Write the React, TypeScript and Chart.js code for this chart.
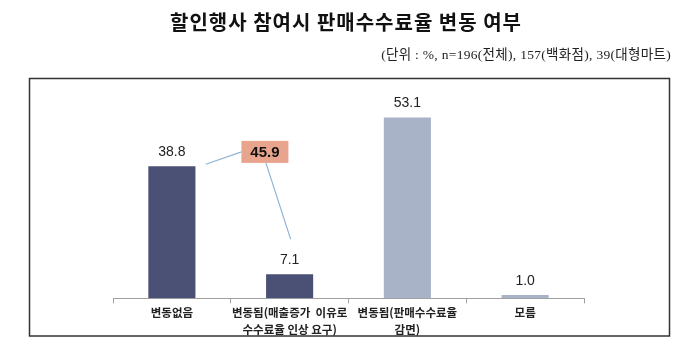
import React, { useEffect, useRef } from "react";
import { Chart, registerables } from "chart.js";

Chart.register(...registerables);

const titleText = "할인행사 참여시 판매수수료율 변동 여부";
const subtitleText = "(단위 : %, n=196(전체), 157(백화점), 39(대형마트)";
const categories: string[][] = [
  ["변동없음"],
  ["변동됨(매출증가  이유로", "수수료율 인상 요구)"],
  ["변동됨(판매수수료율", "감면)"],
  ["모름"],
];
const values = [38.8, 7.1, 53.1, 1.0];
const barColors = ["#4B5175", "#4B5175", "#A9B3C8", "#A9B3C8"];
const sumLabel = "45.9";
const sumIndices = [0, 1];
const sumAnchorIndex = 0.79;
const sumAnchorValue = 43;

const KFONT = "'Noto Sans CJK KR', 'Noto Sans', sans-serif";

const overlayPlugin = {
  id: "overlay",
  afterDraw(chart: any) {
    const ctx = chart.ctx;
    const xs = chart.scales.x;
    const ys = chart.scales.y;
    const meta = chart.getDatasetMeta(0);
    ctx.save();

    // frame
    ctx.strokeStyle = "#333";
    ctx.lineWidth = 1.5;
    ctx.strokeRect(29.5, 78.5, 640, 257.5);

    // title
    ctx.fillStyle = "#111";
    ctx.textAlign = "center";
    ctx.textBaseline = "middle";
    ctx.font = `bold 20px ${KFONT}`;
    (ctx as any).letterSpacing = "1px";
    ctx.fillText(titleText, 346, 22);

    // subtitle
    ctx.textAlign = "right";
    ctx.font = `13.5px 'Liberation Serif', 'Noto Sans CJK KR', serif`;
    (ctx as any).letterSpacing = "0.3px";
    ctx.fillStyle = "#222";
    ctx.fillText(subtitleText, 671, 55);
    (ctx as any).letterSpacing = "0px";

    // value labels
    ctx.textAlign = "center";
    ctx.textBaseline = "bottom";
    ctx.font = `14px 'Liberation Sans', Arial, sans-serif`;
    ctx.fillStyle = "#222";
    meta.data.forEach((bar: any, i: number) => {
      ctx.fillText(values[i].toFixed(1), bar.x, bar.y - 7);
    });

    // sum annotation
    const cx = xs.getPixelForValue(sumAnchorIndex);
    const cy = ys.getPixelForValue(sumAnchorValue);
    const bw = 47;
    const bh = 22;
    const b0: any = meta.data[sumIndices[0]];
    const b1: any = meta.data[sumIndices[1]];
    ctx.strokeStyle = "#8FB3D6";
    ctx.lineWidth = 1.2;
    ctx.beginPath();
    ctx.moveTo(b0.x + 34, b0.y - 2);
    ctx.lineTo(cx - bw / 2, cy);
    ctx.moveTo(cx + 1, cy + bh / 2);
    ctx.lineTo(b1.x + 1, b1.y - 35);
    ctx.stroke();

    ctx.fillStyle = "#E8A48C";
    ctx.fillRect(cx - bw / 2, cy - bh / 2, bw, bh);
    ctx.fillStyle = "#111";
    ctx.textBaseline = "middle";
    ctx.font = `bold 15px 'Liberation Sans', Arial, sans-serif`;
    ctx.fillText(sumLabel, cx, cy + 1);

    ctx.restore();
  },
};

export default function App() {
  const ref = useRef<HTMLCanvasElement | null>(null);
  useEffect(() => {
    if (!ref.current) return;
    const chart = new Chart(ref.current, {
      type: "bar",
      data: {
        labels: categories,
        datasets: [
          {
            data: values,
            backgroundColor: barColors,
            categoryPercentage: 0.8,
            barPercentage: 0.5,
          },
        ],
      },
      options: {
        responsive: false,
        animation: false,
        devicePixelRatio: 1,
        layout: { padding: { left: 113, right: 116, top: 94, bottom: 20 } },
        plugins: {
          legend: { display: false },
          tooltip: { enabled: false },
        },
        scales: {
          x: {
            grid: {
              offset: true,
              drawOnChartArea: false,
              drawTicks: true,
              tickLength: 5,
              color: "#A0A0A0",
            },
            border: { display: true, color: "#A0A0A0", width: 1 },
            ticks: {
              color: "#222",
              padding: 0,
              maxRotation: 0,
              autoSkip: false,
              font: { family: KFONT, size: 11.5, weight: "bold", lineHeight: 1.55 },
            },
          },
          y: {
            display: false,
            min: 0,
            max: 60,
          },
        },
      },
      plugins: [overlayPlugin],
    });
    return () => chart.destroy();
  }, []);
  return (
    <div style={{ position: "absolute", left: 0, top: 0, width: 700, height: 359, background: "#fff" }}>
      <canvas ref={ref} width={700} height={359} style={{ display: "block" }} />
    </div>
  );
}
